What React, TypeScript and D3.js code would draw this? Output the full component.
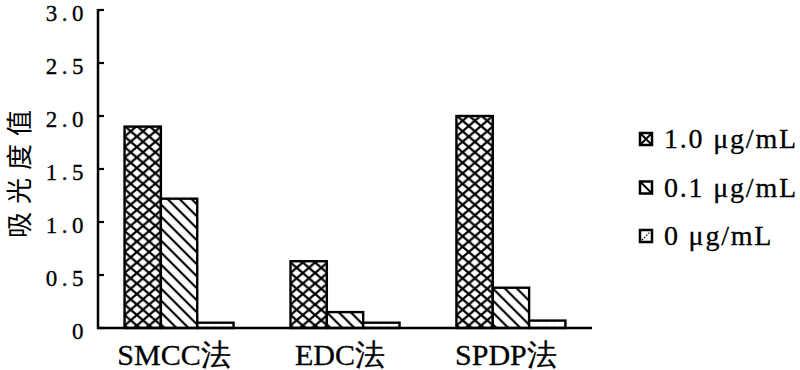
import { scaleBand, scaleLinear, range } from 'd3';

const methods = ['SMCC法', 'EDC法', 'SPDP法'];
const doses = ['1.0 μg/mL', '0.1 μg/mL', '0 μg/mL'];
const dose10 = [1.9, 0.63, 2.0];
const dose01 = [1.22, 0.15, 0.38];
const dose0 = [0.05, 0.05, 0.07];
const yTicks = [0, 0.5, 1.0, 1.5, 2.0, 2.5, 3.0];

const seriesValues = [dose10, dose01, dose0];
const fills = ['url(#cross)', 'url(#diag)', 'url(#dots)'];

const serif = { fontFamily: "'Liberation Serif'" };
const cjk = { fontFamily: "'Noto Sans CJK SC'" };

export default function App() {
  const width = 800;
  const height = 370;
  const left = 98;
  const right = 592;
  const top = 10;
  const bottom = 328;

  const x0 = scaleBand<string>()
    .domain(methods)
    .range([left, right])
    .paddingInner(0.343)
    .paddingOuter(0.16);
  const x1 = scaleBand<string>().domain(doses).range([0, x0.bandwidth()]);
  const y = scaleLinear().domain([0, 3]).range([bottom, top]);

  const legendY = range(doses.length).map((i) => 139 + i * 48.5);

  return (
    <svg
      width={width}
      height={height}
      style={{ position: 'absolute', left: 0, top: 0, background: '#fff' }}
    >
      <defs>
        <pattern id="cross" width={12.3} height={10.5} patternUnits="userSpaceOnUse">
          <rect width={12.3} height={10.5} fill="#fff" />
          <path d="M0,0 L12.3,10.5 M12.3,0 L0,10.5" stroke="#000" strokeWidth={2.3} />
        </pattern>
        <pattern id="diag" width={12} height={12} patternUnits="userSpaceOnUse">
          <rect width={12} height={12} fill="#fff" />
          <path d="M0,0 L12,12 M-6,6 L6,18 M6,-6 L18,6" stroke="#000" strokeWidth={2.1} />
        </pattern>
        <pattern id="dots" width={8} height={6} patternUnits="userSpaceOnUse">
          <rect width={8} height={6} fill="#fff" />
          <circle cx={2} cy={3} r={0.7} fill="#666" />
        </pattern>
      </defs>

      {/* bars */}
      {methods.map((m, gi) => (
        <g key={m} transform={`translate(${x0(m)},0)`}>
          {doses.map((d, si) => {
            const v = seriesValues[si][gi];
            return (
              <rect
                key={d}
                x={x1(d)}
                y={y(v)}
                width={x1.bandwidth()}
                height={bottom - y(v)}
                fill={fills[si]}
                stroke="#000"
                strokeWidth={2.4}
              />
            );
          })}
        </g>
      ))}

      {/* axes */}
      <line x1={left} x2={left} y1={top - 1} y2={bottom + 1} stroke="#000" strokeWidth={2.5} />
      <line x1={left - 1} x2={right} y1={bottom} y2={bottom} stroke="#000" strokeWidth={2.5} />
      {yTicks.map((t) => (
        <g key={t}>
          <line x1={left} x2={left + 6} y1={y(t)} y2={y(t)} stroke="#000" strokeWidth={2.2} />
          <text
            x={88}
            y={y(t) + 11}
            textAnchor="end"
            style={serif}
            fontSize={23}
            letterSpacing={4.5}
            fill="#000"
            stroke="#000"
            strokeWidth={0.3}
          >
            {t === 0 ? '0' : t.toFixed(1)}
          </text>
        </g>
      ))}

      {methods.map((m) => (
        <text
          key={m}
          x={(x0(m) || 0) + x0.bandwidth() / 2 - 5}
          y={365}
          textAnchor="middle"
          style={serif}
          fontSize={30}
          fill="#000"
          stroke="#000"
          strokeWidth={0.3}
        >
          {m}
        </text>
      ))}

      <text
        transform="translate(29,170) rotate(-90)"
        textAnchor="middle"
        style={cjk}
        fontSize={26}
        letterSpacing={8}
        fill="#000"
      >
        吸光度值
      </text>

      {/* legend */}
      {doses.map((d, i) => {
        const cy = legendY[i];
        const sx = 640;
        const s = 12;
        const sy = cy - s / 2;
        return (
          <g key={d}>
            <rect x={sx} y={sy} width={s} height={s} fill="#fff" stroke="#000" strokeWidth={2.5} />
            {i === 0 && (
              <path
                d={`M${sx},${sy} L${sx + s},${sy + s} M${sx + s},${sy} L${sx},${sy + s}`}
                stroke="#000"
                strokeWidth={2}
              />
            )}
            {i === 1 && (
              <path d={`M${sx},${sy} L${sx + s},${sy + s}`} stroke="#000" strokeWidth={2} />
            )}
            {i === 2 && (
              <path
                d={`M${sx + 2},${sy + s - 2} L${sx + s - 2},${sy + 2}`}
                stroke="#000"
                strokeWidth={1.2}
                strokeDasharray="1.5,1.5"
              />
            )}
            <text
              x={664}
              y={cy + 9}
              style={serif}
              fontSize={28}
              letterSpacing={1.8}
              fill="#000"
              stroke="#000"
              strokeWidth={0.3}
            >
              {d}
            </text>
          </g>
        );
      })}
    </svg>
  );
}
